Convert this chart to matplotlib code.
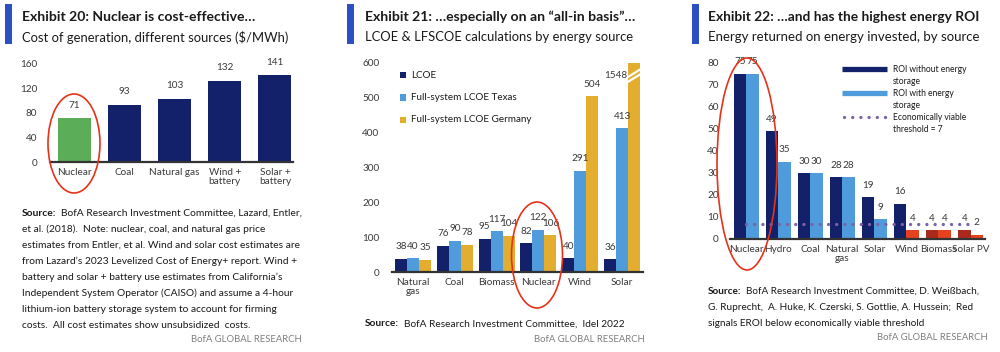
import matplotlib
matplotlib.use("Agg")
import matplotlib.pyplot as plt
from matplotlib.patches import Ellipse, Rectangle
from matplotlib.lines import Line2D
import numpy as np

# === 数据 ===
cost_sources = ["Nuclear", "Coal", "Natural gas", "Wind +\nbattery", "Solar +\nbattery"]
cost_values = [71, 93, 103, 132, 141]

lcoe_sources = ["Natural\ngas", "Coal", "Biomass", "Nuclear", "Wind", "Solar"]
lcoe = [38, 76, 95, 82, 40, 36]
lfscoe_texas = [40, 90, 117, 122, 291, 413]
lfscoe_germany = [35, 78, 104, 106, 504, 1548]

eroi_sources = ["Nuclear", "Hydro", "Coal", "Natural\ngas", "Solar", "Wind", "Biomass", "Solar PV"]
eroi_no_storage = [75, 49, 30, 28, 19, 16, 4, 4]
eroi_storage = [75, 35, 30, 28, 9, 4, 4, 2]
eroi_threshold = 7

# === 颜色 / 字体 ===
NAVY = "#13216A"
LBLUE = "#4F9BDC"
GOLD = "#E3AE2F"
GREEN = "#5BAE57"
DRED = "#A92A1D"
BRED = "#E4421F"
PURPLE = "#7A63A8"
BARBLUE = "#2C4FC4"
TXT = "#1A1A1A"
TICK = "#3A3A3A"
GRAY = "#7F7F7F"
FS = 7.2  # ticks / value labels

plt.rcParams["font.family"] = ["Lato", "DejaVu Sans"]

W, H = 1000, 352
fig = plt.figure(figsize=(W / 100, H / 100), dpi=100)
R = fig.canvas.get_renderer()


def axes_px(x0, y0, x1, y1):
    return fig.add_axes([x0 / W, 1 - y1 / H, (x1 - x0) / W, (y1 - y0) / H])


def ftext(x, y, s, **kw):
    kw.setdefault("color", TXT)
    return fig.text(x / W, 1 - y / H, s, **kw)


def fit(s, target, weight="normal"):
    # 按参考图中的文字宽度求字号
    t = fig.text(0, 0, s, fontsize=10, fontweight=weight)
    w = t.get_window_extent(R).width
    t.remove()
    return 10 * target / w


def style(ax, ypad):
    for s in ["top", "right", "left"]:
        ax.spines[s].set_visible(False)
    ax.spines["bottom"].set_color("#333333")
    ax.spines["bottom"].set_linewidth(1.6)
    ax.tick_params(axis="both", length=0, labelsize=FS, colors=TICK)
    ax.tick_params(axis="y", pad=ypad)
    ax.tick_params(axis="x", pad=4)
    for lab in ax.get_xticklabels():
        lab.set_linespacing(1.05)


def header(x_bar, x_txt, title, subtitle, tw, sw):
    fig.add_artist(Rectangle((x_bar / W, 1 - 44 / H), 7 / W, 40 / H,
                             transform=fig.transFigure, color=BARBLUE, lw=0))
    ftext(x_txt, 17, title, fontsize=fit(title, tw, "bold"), fontweight="bold", va="center")
    ftext(x_txt, 37, subtitle, fontsize=fit(subtitle, sw), va="center")


def source(x, y0, lines, size, right, bofa_y):
    b = ftext(x, y0, "Source:", fontsize=size, fontweight="bold", va="center")
    w = b.get_window_extent(R).width
    ftext(x + w + 5, y0, lines[0], fontsize=size, va="center")
    for i, s in enumerate(lines[1:]):
        ftext(x, y0 + 16 * (i + 1), s, fontsize=size, va="center")
    ftext(right, bofa_y, "BofA GLOBAL RESEARCH", fontsize=fit("BofA GLOBAL RESEARCH", 110),
          va="center", ha="right", color=GRAY)


def ellipse(cx, cy, w, h):
    fig.add_artist(Ellipse((cx / W, 1 - cy / H), w / W, h / H, transform=fig.transFigure,
                           fill=False, ec="#E5331A", lw=1.2))


def labels(ax, xs, vals, off=12):
    for xv, v in zip(xs, vals):
        ax.annotate(str(v), (xv, v), xytext=(0, off),
                    textcoords="offset pixels", ha="center", va="center",
                    fontsize=FS, color=TICK)


# === 图 20 ===
header(5, 22, "Exhibit 20: Nuclear is cost-effective…",
       "Cost of generation, different sources ($/MWh)", 233, 266)
ax1 = axes_px(50, 63.5, 293, 162)
x1 = np.arange(len(cost_sources))
ax1.bar(x1, cost_values, width=0.66,
        color=[GREEN if s == "Nuclear" else NAVY for s in cost_sources])
ax1.set_xlim(-0.48, 4.36)
ax1.set_ylim(0, 160)
ax1.set_yticks(range(0, 161, 40))
ax1.set_xticks(x1, cost_sources)
style(ax1, 9)
labels(ax1, x1, cost_values, off=13)
ellipse(74, 143.5, 52, 99)
src1 = [
    "BofA Research Investment Committee, Lazard, Entler,",
    "et al. (2018).  Note: nuclear, coal, and natural gas price",
    "estimates from Entler, et al. Wind and solar cost estimates are",
    "from Lazard’s 2023 Levelized Cost of Energy+ report. Wind +",
    "battery and solar + battery use estimates from California’s",
    "Independent System Operator (CAISO) and assume a 4-hour",
    "lithium-ion battery storage system to account for firming",
    "costs.  All cost estimates show unsubsidized  costs.",
]
source(22, 213, src1, fit(src1[2], 278), 302, 340)

# === 图 21 ===
header(347, 365, "Exhibit 21: …especially on an “all-in basis”…",
       "LCOE & LFSCOE calculations by energy source", 270, 267)
ax2 = axes_px(392, 63, 643, 272)
x2 = np.arange(len(lcoe_sources))
bw = 0.286
series2 = [(lcoe, NAVY, "LCOE"), (lfscoe_texas, LBLUE, "Full-system LCOE Texas"),
           (lfscoe_germany, GOLD, "Full-system LCOE Germany")]
ax2.set_xlim(-0.5, 5.5)
ax2.set_ylim(0, 600)
for i, (vals, c, name) in enumerate(series2):
    xs = x2 + (i - 1) * bw
    ax2.bar(xs, vals, width=bw, color=c)
    keep = [j for j, v in enumerate(vals) if v <= 600]
    labels(ax2, xs[keep], [vals[j] for j in keep])
# capped bar: label and break marks
top = lfscoe_germany[-1]
ax2.text(x2[-1] + 0.12, 563, str(top), ha="right", va="center", fontsize=FS, color=TICK)
for dy in (0, 14):
    ax2.add_line(Line2D([x2[-1] + 0.13, x2[-1] + 0.44], [545 + dy, 568 + dy],
                        color="white", lw=1.6, clip_on=False))
ax2.set_yticks(range(0, 601, 100))
ax2.set_xticks(x2, lcoe_sources)
style(ax2, 9)
leg_fs = fit("Full-system LCOE Germany", 120)
for i, (vals, c, name) in enumerate(series2):
    y = 75 + 22.5 * i
    fig.add_artist(Rectangle((400 / W, 1 - (y + 3) / H), 6 / W, 6 / H,
                             transform=fig.transFigure, color=c, lw=0))
    ftext(411, y, name, fontsize=leg_fs, va="center")
ellipse(537, 255, 51, 106)
src2 = ["BofA Research Investment Committee,  Idel 2022"]
source(365, 324, src2, fit(src2[0], 220), 645, 340)

# === 图 22 ===
header(692, 708, "Exhibit 22: …and has the highest energy ROI",
       "Energy returned on energy invested, by source", 272, 272)
ax3 = axes_px(730, 63, 985, 239)
x3 = np.arange(len(eroi_sources))
bw3 = 0.39
ax3.set_xlim(-0.5, 7.45)
ax3.set_ylim(0, 80)
ax3.bar(x3 - bw3 / 2, eroi_no_storage, width=bw3,
        color=[DRED if v < eroi_threshold else NAVY for v in eroi_no_storage])
ax3.bar(x3 + bw3 / 2, eroi_storage, width=bw3,
        color=[BRED if v < eroi_threshold else LBLUE for v in eroi_storage])
labels(ax3, x3 - bw3 / 2, eroi_no_storage, off=12)
labels(ax3, x3 + bw3 / 2, eroi_storage, off=12)
dots = dict(color=PURPLE, lw=2.4, ls=(0, (0.01, 2.45)), dash_capstyle="round")
ax3.plot([x3[0], x3[-1]], [eroi_threshold, eroi_threshold], **dots)
ax3.set_yticks(range(0, 81, 10))
ax3.set_xticks(x3, eroi_sources)
style(ax3, 8)
leg3_fs = fit("ROI without energy", 74)
leg = [(NAVY, "ROI without energy", "storage", None),
       (LBLUE, "ROI with energy", "storage", None),
       (PURPLE, "Economically viable", "threshold = 7", dots)]
for i, (c, l1, l2, st) in enumerate(leg):
    y = 69 + 24 * i
    yy = 1 - y / H
    if st is None:
        fig.add_artist(Line2D([842 / W, 887 / W], [yy, yy], transform=fig.transFigure,
                              color=c, lw=3.8, solid_capstyle="butt"))
    else:
        fig.add_artist(Line2D([844 / W, 886 / W], [yy, yy], transform=fig.transFigure, **st))
    ftext(893, y, l1, fontsize=leg3_fs, va="center")
    ftext(893, y + 12, l2, fontsize=leg3_fs, va="center")
ellipse(747, 164, 60, 212)
src3 = [
    "BofA Research Investment Committee, D. Weißbach,",
    "G. Ruprecht,  A. Huke, K. Czerski, S. Gottlie, A. Hussein;  Red",
    "signals EROI below economically viable threshold",
]
source(708, 291, src3, fit(src3[0], 233), 988, 338)

fig.savefig("out.png", dpi=100)
